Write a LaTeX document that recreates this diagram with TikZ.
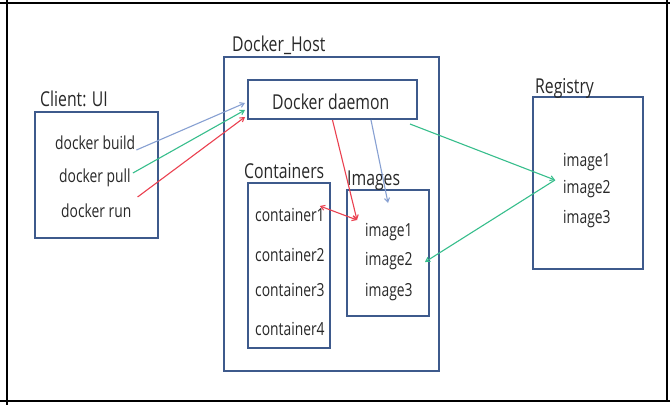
\documentclass[tikz,border=0pt]{standalone}
\usepackage{fontspec}
\setmainfont{Open Sans}[FakeStretch=0.77]
\usetikzlibrary{arrows.meta,calc}
\definecolor{boxblue}{RGB}{62,90,140}
\definecolor{txt}{RGB}{40,40,40}
\definecolor{arblue}{RGB}{135,160,210}
\definecolor{argreen}{RGB}{55,190,140}
\definecolor{arred}{RGB}{235,65,80}
\tikzset{
  box/.style={draw=boxblue,line width=2pt,inner sep=0pt,anchor=north west},
  lbl/.style={text=txt,inner sep=0pt,anchor=base west,font=\fontsize{20.5}{22}\selectfont},
  itm/.style={text=txt,inner sep=0pt,anchor=base west,font=\fontsize{18}{20}\selectfont},
  frame/.style={draw=black,line width=2.4pt},
  conn/.style={line width=1.1pt,-{Straight Barb[length=4pt,width=5pt]}},
  dconn/.style={line width=1.1pt,{Straight Barb[length=4pt,width=5pt]}-{Straight Barb[length=4pt,width=5pt]}}
}
\begin{document}
\begin{tikzpicture}[x=1pt,y=-1pt]
\useasboundingbox (0,0) rectangle (670,405);
\fill[white] (0,0) rectangle (670,405);
% outer frame lines
\coordinate (tl) at (0,3);
\coordinate (tr) at (670,3);
\coordinate (bl) at (0,401);
\coordinate (br) at (670,401);
\coordinate (lt) at (7,0);
\coordinate (lb) at (7,405);
\coordinate (rt) at (667,0);
\coordinate (rb) at (667,401);
\draw[frame] (tl) -- (tr);
\draw[frame] (bl) -- (br);
\draw[frame] (lt) -- (lb);
\draw[frame] (rt) -- (rb);
% boxes
\node[box,minimum width=123pt,minimum height=126pt] (client) at (34,111) {};
\node[box,minimum width=215pt,minimum height=314pt] (host) at (223,56) {};
\node[box,minimum width=169pt,minimum height=39pt] (daemon) at (247,79) {};
\node[box,minimum width=82pt,minimum height=165pt] (cont) at (247,182) {};
\node[box,minimum width=82pt,minimum height=126pt] (imgs) at (346,189) {};
\node[box,minimum width=110pt,minimum height=172pt] (reg) at (532,96) {};
% labels
\node[lbl] (clientl) at (40,106) {Client: UI};
\node[lbl] (hostl) at (232,51) {Docker\_Host};
\node[lbl] (daemonl) at (272,109) {Docker daemon};
\node[lbl] (contl) at (244,178) {Containers};
\node[lbl] (imgsl) at (347,185) {Images};
\node[lbl] (regl) at (535,93) {Registry};
% items
\node[itm] (build) at (55,149) {docker build};
\node[itm] (pull) at (59,182) {docker pull};
\node[itm] (run) at (61,217) {docker run};
\node[itm] (c1) at (255,221) {container1};
\node[itm] (c2) at (255,261) {container2};
\node[itm] (c3) at (255,296) {container3};
\node[itm] (c4) at (255,335) {container4};
\node[itm] (i1) at (365,236) {image1};
\node[itm] (i2) at (365,265) {image2};
\node[itm] (i3) at (365,296) {image3};
\node[itm] (r1) at (563,166) {image1};
\node[itm] (r2) at (563,193) {image2};
\node[itm] (r3) at (563,223) {image3};
% connector points
\coordinate (imgin) at ($(i1.base west)+(-8,-16)$);
\coordinate (regin) at ($(r1.base west)+(-8,14)$);
% client -> daemon
\draw[conn,arblue] ($(build.base east)+(1,1)$) -- ([yshift=-3.5pt,xshift=-2pt]daemon.west);
\draw[conn,argreen] ($(pull.base east)+(2,-9)$) -- ([yshift=-10.5pt,xshift=-2pt]daemon.west);
\draw[conn,arred] ($(run.base east)+(6,-20)$) -- ([yshift=-17.5pt,xshift=-2pt]daemon.west);
% daemon -> images
\draw[conn,arred] (daemon.south) -- (imgin);
\draw[conn,arblue] ([xshift=38.5pt]daemon.south) -- ([yshift=-14pt]imgs.north);
\draw[dconn,arred] ($(c1.base east)+(-5,-15)$) -- (imgin);
% registry links
\draw[conn,argreen] ([xshift=-8pt,yshift=-4pt]daemon.south east) -- (regin);
\draw[conn,argreen] (regin) -- ([xshift=-5pt,yshift=-9pt]imgs.east);
\end{tikzpicture}
\end{document}
